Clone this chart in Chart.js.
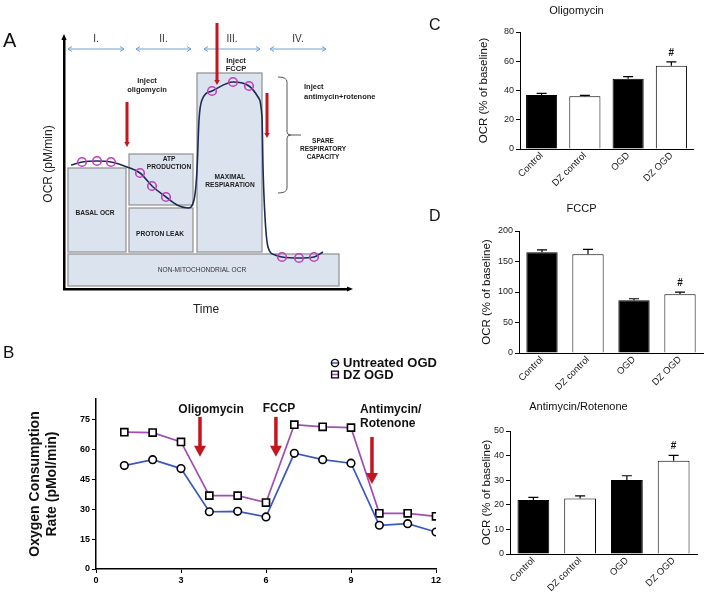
<!DOCTYPE html>
<html>
<head>
<meta charset="utf-8">
<title>Mitochondrial OCR</title>
<script src="https://cdn.jsdelivr.net/npm/chart.js@4.4.0/dist/chart.umd.min.js"></script>
<style>
  body { margin: 0; background: #fff; }
  #wrap { position: relative; width: 708px; height: 598px; overflow: hidden; font-family: "Liberation Sans", Arial, sans-serif; }
  #wrap canvas { position: absolute; }
  .letter { position: absolute; color: #111; line-height: 1; }
</style>
</head>
<body>
<div id="wrap">
  <canvas id="chartA" width="440" height="320" style="left:0;top:0"></canvas>
  <canvas id="chartB" width="460" height="268" style="left:0;top:330px"></canvas>
  <canvas id="chartC" width="248" height="190" style="left:460px;top:0"></canvas>
  <canvas id="chartD" width="248" height="210" style="left:460px;top:190px"></canvas>
  <canvas id="chartE" width="248" height="208" style="left:460px;top:390px"></canvas>
  <div class="letter" style="left:3px;top:30px;font-size:20px">A</div>
  <div class="letter" style="left:3px;top:344px;font-size:17px">B</div>
  <div class="letter" style="left:429px;top:17px;font-size:16px">C</div>
  <div class="letter" style="left:429px;top:208px;font-size:16px">D</div>
</div>
<script>
// ---- panel A: schematic of a Seahorse run (arbitrary units) ----
const curveTime = [7, 18, 33, 47, 63, 76, 88, 102, 113, 124, 130, 133, 135, 138, 148, 169, 185, 194, 198, 199, 201, 204, 211, 218, 235, 250, 259];
const curveOcr  = [124, 127, 128, 127, 122, 116, 103, 92, 84, 81, 89, 119, 169, 189, 198, 207, 203, 192, 172, 122, 72, 42, 34, 32, 31, 32, 37];
const sampleTime = [18, 33, 47, 76, 88, 102, 148, 169, 185, 218, 235, 250];
const sampleOcr  = [127, 128, 127, 116, 103, 92, 198, 207, 203, 32, 31, 32];

const boxNames    = ['BASAL OCR', 'ATP\nPRODUCTION', 'PROTON LEAK', 'MAXIMAL\nRESPIARATION', 'NON-MITOCHONDRIAL OCR'];
const boxTimeFrom = [4, 65, 65, 133, 4];
const boxTimeTo   = [62, 129, 129, 198, 275];
const boxOcrFrom  = [37, 84, 37, 37, 3];
const boxOcrTo    = [121, 135, 81, 216, 35];

const phaseNames = ['I.', 'II.', 'III.', 'IV.'];
const phaseFrom  = [4, 72, 140, 206];
const phaseTo    = [60, 127, 196, 262];

const injectTime   = [63, 153, 203];
const injectTop    = [187, 266, 196];
const injectBottom = [142, 204, 151];

// ---- panel B: OCR time course ----
const measurement  = [1, 2, 3, 4, 5, 6, 7, 8, 9, 10, 11, 12];
const untreatedOgd = [52, 55, 50.5, 28.8, 29, 26.2, 58.2, 55, 53.2, 22, 22.8, 18.6];
const dzOgd        = [68.8, 68.6, 63.9, 36.9, 36.9, 33.4, 72.6, 71.5, 71.1, 28, 28, 26.5];
const bTicksY = [0, 15, 30, 45, 60, 75];
const bTicksX = [0, 3, 6, 9, 12];

// ---- panels C/D: % of baseline ----
const groups   = ['Control', 'DZ control', 'OGD', 'DZ OGD'];
const sigMarks = ['', '', '', '#'];
const oligoMean = [37, 36, 48, 57];
const oligoSem  = [1, 0.7, 1.5, 2.6];
const fccpMean  = [165, 162, 86.4, 96.2];
const fccpSem   = [4, 8, 2.5, 3.5];
const antiMean  = [22, 22.6, 30.1, 37.9];
const antiSem   = [1, 1, 1.7, 2.2];

const FONT = '"Liberation Sans", Arial, sans-serif';
const RED = '#c3161f';
Chart.defaults.font.family = FONT;
Chart.defaults.color = '#111';
Chart.defaults.animation = false;

function downArrow(ctx, x, y0, y1, shaft, headW, headH) {
  ctx.fillStyle = RED;
  ctx.fillRect(x - shaft / 2, y0, shaft, y1 - y0 - headH + 1);
  ctx.beginPath();
  ctx.moveTo(x - headW / 2, y1 - headH);
  ctx.lineTo(x + headW / 2, y1 - headH);
  ctx.lineTo(x, y1);
  ctx.closePath();
  ctx.fill();
}

function text(ctx, str, x, y, font, color, align) {
  ctx.font = font;
  ctx.fillStyle = color || '#111';
  ctx.textAlign = align || 'center';
  ctx.textBaseline = 'middle';
  ctx.fillText(str, x, y);
}

// labels inside panel A, in chart units
const schemaNotes = [
  { t: 'Inject', x: 83, y: 208 }, { t: 'oligomycin', x: 83, y: 199 },
  { t: 'Inject', x: 172, y: 228 }, { t: 'FCCP', x: 172, y: 220 },
  { t: 'Inject', x: 240, y: 202, a: 'left' }, { t: 'antimycin+rotenone', x: 240, y: 192, a: 'left' }
];
const boxLabelTime = [31, 105, 96, 166, 138];
const boxLabelOcr  = [76, 130, 55, 112, 19];

const schematicPlugin = {
  id: 'schematic',
  beforeDatasetsDraw(chart) {
    const { ctx, scales: { x, y } } = chart;
    ctx.save();
    boxNames.forEach((name, i) => {
      const l = x.getPixelForValue(boxTimeFrom[i]), r = x.getPixelForValue(boxTimeTo[i]);
      const t = y.getPixelForValue(boxOcrTo[i]), b = y.getPixelForValue(boxOcrFrom[i]);
      ctx.fillStyle = '#dbe3ef';
      ctx.fillRect(l, t, r - l, b - t);
      ctx.strokeStyle = '#8e8e8e';
      ctx.lineWidth = 1.2;
      ctx.strokeRect(l, t, r - l, b - t);
      const last = i === boxNames.length - 1;
      name.split('\n').forEach((line, k) => {
        text(ctx, line, x.getPixelForValue(boxLabelTime[i]), y.getPixelForValue(boxLabelOcr[i]) + k * 8,
          (last ? '' : 'bold ') + '6.6px ' + FONT, last ? '#333' : '#222');
      });
    });
    ctx.restore();
  },
  afterDraw(chart) {
    const { ctx, chartArea: ca, scales: { x, y } } = chart;
    ctx.save();
    // axis arrowheads
    ctx.fillStyle = '#000';
    ctx.beginPath();
    ctx.moveTo(ca.left, ca.top - 5); ctx.lineTo(ca.left - 2.6, ca.top + 1); ctx.lineTo(ca.left + 2.6, ca.top + 1);
    ctx.closePath(); ctx.fill();
    ctx.beginPath();
    ctx.moveTo(ca.right + 5, ca.bottom); ctx.lineTo(ca.right - 1, ca.bottom - 2.6); ctx.lineTo(ca.right - 1, ca.bottom + 2.6);
    ctx.closePath(); ctx.fill();

    // phase arrows
    ctx.strokeStyle = '#6d9fd6';
    ctx.lineWidth = 1;
    phaseNames.forEach((p, i) => {
      const a = x.getPixelForValue(phaseFrom[i]), b = x.getPixelForValue(phaseTo[i]);
      const py = y.getPixelForValue(240);
      ctx.beginPath();
      ctx.moveTo(a, py); ctx.lineTo(b, py);
      ctx.moveTo(a + 4, py - 2.5); ctx.lineTo(a, py); ctx.lineTo(a + 4, py + 2.5);
      ctx.moveTo(b - 4, py - 2.5); ctx.lineTo(b, py); ctx.lineTo(b - 4, py + 2.5);
      ctx.stroke();
      text(ctx, p, (a + b) / 2, y.getPixelForValue(250), '10px ' + FONT, '#333');
    });

    // injection arrows
    injectTime.forEach((t, i) => {
      downArrow(ctx, x.getPixelForValue(t), y.getPixelForValue(injectTop[i]), y.getPixelForValue(injectBottom[i]), 3, 5.5, 5);
    });

    schemaNotes.forEach(n => {
      text(ctx, n.t, x.getPixelForValue(n.x), y.getPixelForValue(n.y), 'bold 7.5px ' + FONT, '#222', n.a);
    });

    // spare capacity brace
    const bx0 = x.getPixelForValue(214), bx1 = x.getPixelForValue(223);
    const by0 = y.getPixelForValue(212), by1 = y.getPixelForValue(96), bym = y.getPixelForValue(154);
    ctx.strokeStyle = '#555';
    ctx.lineWidth = 1;
    ctx.beginPath();
    ctx.moveTo(bx0, by0); ctx.quadraticCurveTo(bx1, by0, bx1, by0 + 5);
    ctx.lineTo(bx1, bym - 3); ctx.quadraticCurveTo(bx1, bym, bx1 + 4, bym);
    ctx.lineTo(x.getPixelForValue(237), bym);
    ctx.moveTo(bx1 + 4, bym); ctx.quadraticCurveTo(bx1, bym, bx1, bym + 3);
    ctx.lineTo(bx1, by1 - 5); ctx.quadraticCurveTo(bx1, by1, bx0, by1);
    ctx.stroke();
    ['SPARE', 'RESPIRATORY', 'CAPACITY'].forEach((s, k) => {
      text(ctx, s, x.getPixelForValue(259), y.getPixelForValue(148) + k * 8, 'bold 6.5px ' + FONT, '#222');
    });
    ctx.restore();
  }
};

new Chart(document.getElementById('chartA'), {
  type: 'scatter',
  data: {
    datasets: [
      {
        data: curveTime.map((t, i) => ({ x: t, y: curveOcr[i] })),
        showLine: true, borderColor: '#1c2b55', borderWidth: 1.6,
        pointRadius: 0, cubicInterpolationMode: 'monotone', order: 2
      },
      {
        data: sampleTime.map((t, i) => ({ x: t, y: sampleOcr[i] })),
        showLine: false, pointRadius: 4.3, pointBorderWidth: 1.6,
        pointBorderColor: '#c23fbf', pointBackgroundColor: 'rgba(0,0,0,0)', order: 1
      }
    ]
  },
  options: {
    responsive: false,
    animation: false,
    layout: { padding: { top: 39, right: 92, left: 0, bottom: 0 } },
    plugins: { legend: { display: false }, tooltip: { enabled: false } },
    scales: {
      x: {
        type: 'linear', min: 0, max: 284,
        ticks: { display: false }, grid: { display: false },
        border: { display: true, color: '#000', width: 2.5 },
        title: { display: true, text: 'Time', font: { size: 12 }, color: '#222', padding: { top: 0, bottom: 2.8 } },
        afterFit(s) { s.height = 31; }
      },
      y: {
        min: 0, max: 250,
        ticks: { display: false }, grid: { display: false },
        border: { display: true, color: '#000', width: 2.5 },
        title: { display: true, text: 'OCR (pM/min)', font: { size: 12 }, color: '#222', padding: { top: 41.8, bottom: 0 } },
        afterFit(s) { s.width = 64; }
      }
    }
  },
  plugins: [schematicPlugin]
});

// ---- panel B ----
const bInjections = [
  { lines: ['Oligomycin'], tx: 4.06, ty: 80, align: 'center', ax: 3.67, top: 76.5, bottom: 56.4 },
  { lines: ['FCCP'], tx: 6.46, ty: 80.5, align: 'center', ax: 6.35, top: 76.5, bottom: 56.4 },
  { lines: ['Antimycin/', 'Rotenone'], tx: 9.32, ty: 80, align: 'left', ax: 9.74, top: 66.4, bottom: 42.8 }
];

const timecoursePlugin = {
  id: 'timecourse',
  afterDraw(chart) {
    const { ctx, scales: { x, y } } = chart;
    ctx.save();
    bInjections.forEach(inj => {
      inj.lines.forEach((l, k) => {
        text(ctx, l, x.getPixelForValue(inj.tx), y.getPixelForValue(inj.ty) + k * 14, 'bold 12px ' + FONT, '#111', inj.align);
      });
      downArrow(ctx, x.getPixelForValue(inj.ax), y.getPixelForValue(inj.top), y.getPixelForValue(inj.bottom), 3.5, 12, 11);
    });
    // legend
    chart.data.datasets.forEach((ds, i) => {
      const lx = 335, ly = 33 + i * 11.5;
      ctx.strokeStyle = ds.borderColor;
      ctx.lineWidth = 1.5;
      ctx.beginPath(); ctx.moveTo(lx - 3, ly); ctx.lineTo(lx + 3, ly); ctx.stroke();
      ctx.strokeStyle = '#000';
      ctx.lineWidth = 1.4;
      ctx.beginPath();
      if (ds.pointStyle === 'rect') ctx.rect(lx - 3.4, ly - 3.4, 6.8, 6.8);
      else ctx.arc(lx, ly, 3.6, 0, Math.PI * 2);
      ctx.stroke();
      text(ctx, ds.label, lx + 8, ly + 0.5, 'bold 13px ' + FONT, '#111', 'left');
    });
    ctx.restore();
  }
};

const bTickFont = { size: 9, weight: 'bold' };
new Chart(document.getElementById('chartB'), {
  type: 'scatter',
  data: {
    datasets: [
      {
        label: 'Untreated OGD',
        data: measurement.map((m, i) => ({ x: m, y: untreatedOgd[i] })),
        showLine: true, borderColor: '#3a58c0', borderWidth: 1.7,
        pointStyle: 'circle', pointRadius: 3.8, pointBorderWidth: 1.6,
        pointBorderColor: '#000', pointBackgroundColor: '#fff'
      },
      {
        label: 'DZ OGD',
        data: measurement.map((m, i) => ({ x: m, y: dzOgd[i] })),
        showLine: true, borderColor: '#a14db3', borderWidth: 1.7,
        pointStyle: 'rect', pointRadius: 5, pointBorderWidth: 1.6,
        pointBorderColor: '#000', pointBackgroundColor: '#fff'
      }
    ]
  },
  options: {
    responsive: false,
    animation: false,
    layout: { padding: { top: 69, right: 24, left: 0, bottom: 0 } },
    plugins: { legend: { display: false }, tooltip: { enabled: false } },
    scales: {
      x: {
        type: 'linear', min: 0, max: 12,
        afterBuildTicks(s) { s.ticks = bTicksX.map(v => ({ value: v })); },
        ticks: { font: bTickFont, color: '#000', padding: 2 },
        grid: { display: true, drawOnChartArea: false, drawTicks: true, tickLength: 4, color: '#000' },
        border: { display: true, color: '#000', width: 1.5 },
        afterFit(s) { s.height = 29; }
      },
      y: {
        min: 0, max: 85.5,
        afterBuildTicks(s) { s.ticks = bTicksY.map(v => ({ value: v })); },
        ticks: { font: bTickFont, color: '#000', padding: 2 },
        grid: { display: true, drawOnChartArea: false, drawTicks: true, tickLength: 4, color: '#000' },
        border: { display: true, color: '#000', width: 1.5 },
        title: {
          display: true, text: ['Oxygen Consumption', 'Rate (pMol/min)'],
          font: { size: 14, weight: 'bold', lineHeight: 1.21 }, color: '#111',
          padding: { top: 26.5, bottom: 0 }
        },
        afterFit(s) { s.width = 96; }
      }
    }
  },
  plugins: [timecoursePlugin]
});

// ---- bar panels ----
const errorBarPlugin = {
  id: 'errorBars',
  afterDatasetsDraw(chart, args, opts) {
    const { ctx } = chart;
    const y = chart.scales.y;
    const ds = chart.data.datasets[0];
    ctx.save();
    ctx.strokeStyle = '#000';
    ctx.lineWidth = 1.2;
    chart.getDatasetMeta(0).data.forEach((bar, i) => {
      const top = y.getPixelForValue(ds.data[i] + opts.sem[i]);
      ctx.beginPath();
      ctx.moveTo(bar.x, bar.y); ctx.lineTo(bar.x, top);
      ctx.moveTo(bar.x - 5, top); ctx.lineTo(bar.x + 5, top);
      ctx.stroke();
      if (opts.marks[i]) {
        ctx.font = 'bold 10px ' + FONT;
        ctx.fillStyle = '#111';
        ctx.textAlign = 'center';
        ctx.textBaseline = 'alphabetic';
        ctx.fillText(opts.marks[i], bar.x, top - 6);
      }
    });
    ctx.restore();
  }
};

function barChart(id, title, means, sems, yMax, step, box) {
  return new Chart(document.getElementById(id), {
    type: 'bar',
    data: {
      labels: groups,
      datasets: [{
        data: means,
        backgroundColor: ['#000', '#fff', '#000', '#fff'],
        borderColor: '#000', borderWidth: 1,
        barPercentage: box.bar, categoryPercentage: 1
      }]
    },
    options: {
      responsive: false,
      animation: false,
      layout: { padding: { top: 0, right: box.right, left: 0, bottom: 0 } },
      plugins: {
        legend: { display: false },
        tooltip: { enabled: false },
        title: {
          display: true, text: title, font: { size: 11, weight: 'normal' }, color: '#111',
          padding: { top: box.titleTop, bottom: box.titleBottom }
        },
        errorBars: { sem: sems, marks: sigMarks }
      },
      scales: {
        x: {
          ticks: { font: { size: 9.5 }, color: '#222', minRotation: 45, maxRotation: 45, padding: 1 },
          grid: { display: false, drawTicks: false },
          border: { display: true, color: '#000', width: 1 },
          afterFit(s) { s.height = box.xh; }
        },
        y: {
          min: 0, max: yMax,
          ticks: { stepSize: step, font: { size: 9 }, color: '#222', padding: 2 },
          grid: { display: true, drawOnChartArea: false, drawTicks: true, tickLength: 4, color: '#000' },
          border: { display: true, color: '#000', width: 1 },
          title: {
            display: true, text: 'OCR (% of baseline)', font: { size: 11.5 }, color: '#111',
            padding: { top: box.yt, bottom: 0 }
          },
          afterFit(s) { s.width = box.yw; }
        }
      }
    },
    plugins: [errorBarPlugin]
  });
}

barChart('chartC', 'Oligomycin', oligoMean, oligoSem, 80, 20,
  { bar: 0.72, right: 15, titleTop: 4.4, titleBottom: 14.4, xh: 41, yw: 60, yt: 17.1 });
barChart('chartD', 'FCCP', fccpMean, fccpSem, 200, 50,
  { bar: 0.68, right: 5, titleTop: 12.4, titleBottom: 15.4, xh: 47, yw: 59, yt: 20.1 });
barChart('chartE', 'Antimycin/Rotenone', antiMean, antiSem, 50, 10,
  { bar: 0.68, right: 11, titleTop: 10.4, titleBottom: 17.4, xh: 44, yw: 50, yt: 20.1 });
</script>
</body>
</html>
